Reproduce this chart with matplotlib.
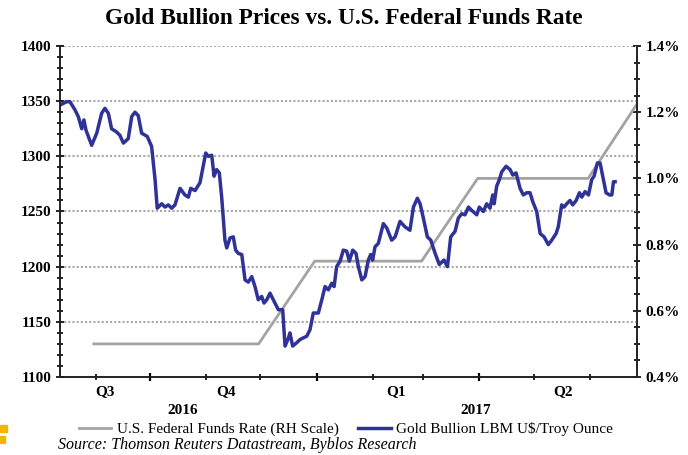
import numpy as np
import pandas as pd
import matplotlib
matplotlib.use("Agg")
import matplotlib.pyplot as plt
import matplotlib.dates as mdates
from matplotlib.ticker import MultipleLocator, FuncFormatter
from matplotlib.patches import Rectangle

# ---------------- data ----------------
base_date = "2016-10-01"
# gold price trace: days relative to base_date, price in US$/oz
gold_days = [-49.7, -46.0, -44.2, -41.4, -39.6, -37.7, -36.5, -35.4, -32.2, -29.4,
             -26.7, -24.9, -23.0, -21.2, -18.4, -16.6, -14.7, -12.0, -10.1, -8.3,
             -6.5, -4.6, -1.5, 0.9, 2.8, 4.0, 6.5, 8.3, 10.1, 12.0,
             13.8, 16.6, 19.3, 21.2, 22.5, 24.9, 27.6, 29.4, 30.8, 32.2,
             34.1, 35.4, 36.8, 38.3, 39.6, 41.4, 42.4, 44.2, 46.0, 47.3,
             48.8, 50.7, 52.5, 54.3, 56.2, 58.0, 59.8, 61.7, 63.0, 64.5,
             66.3, 68.1, 70.9, 73.3, 74.6, 76.4, 77.3, 78.8, 81.0, 82.9,
             86.6, 88.4, 90.2, 93.0, 94.9, 96.7, 98.5, 100.4, 101.7, 103.1,
             105.0, 106.8, 108.7, 110.1, 112.0, 113.8, 115.1, 117.0, 118.8, 120.6,
             121.9, 123.0, 124.3, 126.1, 128.9, 130.8, 133.5, 135.4, 138.1, 140.9,
             143.6, 145.5, 147.7, 149.2, 151.0, 153.2, 155.1, 157.5, 159.8, 162.4,
             164.3, 166.1, 168.5, 170.3, 172.2, 174.0, 175.9, 177.7, 180.5, 181.9,
             184.1, 186.0, 187.8, 189.3, 190.1, 191.5, 193.0, 194.3, 196.7, 198.9,
             200.4, 202.2, 204.4, 206.2, 208.1, 209.9, 211.4, 213.6, 215.5, 217.7,
             220.0, 221.9, 224.3, 225.5, 227.4, 228.7, 230.2, 232.0, 233.5, 235.4,
             237.2, 238.5, 240.3, 242.2, 244.0, 245.3, 247.1, 248.6, 250.4, 251.9,
             253.8, 255.1, 256.0, 256.9]
gold_price = [1346.5, 1349.5, 1349.5, 1342, 1336, 1325, 1333, 1324, 1310, 1321,
              1339, 1343.5, 1339, 1325, 1322, 1319, 1312, 1316, 1336, 1340,
              1337, 1321, 1318, 1309, 1279, 1253, 1257, 1254, 1256, 1253,
              1256, 1271, 1265, 1263, 1271, 1269, 1276, 1291, 1303, 1300,
              1301, 1282, 1288, 1285, 1263, 1224, 1217, 1226, 1227, 1215,
              1212, 1211, 1188, 1186, 1191, 1182, 1170, 1173, 1167, 1170,
              1176, 1170, 1161, 1161, 1128, 1135, 1140, 1128, 1131, 1134,
              1137, 1143, 1158, 1158, 1170, 1182, 1179, 1185, 1182, 1200,
              1205, 1215, 1214, 1205, 1215, 1212, 1200, 1188, 1191, 1206,
              1211, 1206, 1218, 1221, 1239, 1235, 1224, 1227, 1241, 1236,
              1233, 1254, 1262, 1257, 1244, 1227, 1224, 1212, 1202, 1206,
              1200, 1227, 1232, 1244, 1248, 1247, 1254, 1251, 1247, 1254,
              1250, 1257, 1253, 1265, 1257, 1273, 1279, 1286, 1291, 1288,
              1283, 1285, 1271, 1265, 1267, 1267, 1259, 1250, 1230, 1227,
              1220, 1224, 1230, 1236, 1256, 1254, 1257, 1260, 1256, 1260,
              1267, 1263, 1268, 1265, 1279, 1282, 1294, 1294, 1279, 1267,
              1265, 1265, 1277, 1277]

rate_dates = ["2016-08-31", "2016-09-30", "2016-10-31", "2016-11-30", "2016-12-31",
              "2017-01-31", "2017-02-28", "2017-03-31", "2017-04-30", "2017-05-31",
              "2017-06-30"]
rate_values = [0.50, 0.50, 0.50, 0.50, 0.75, 0.75, 0.75, 1.00, 1.00, 1.00, 1.25]

quarter_labels = ["Q3", "Q4", "Q1", "Q2"]
quarter_centers = ["2016-09-06", "2016-11-12", "2017-02-14", "2017-05-17"]
year_labels = ["2016", "2017"]
year_centers = ["2016-10-19", "2017-03-30"]

title = "Gold Bullion Prices vs. U.S. Federal Funds Rate"
source = "Source: Thomson Reuters Datastream, Byblos Research"

# ---------------- figure ----------------
plt.rcParams["font.family"] = ["Liberation Serif", "DejaVu Serif"]

fig = plt.figure(figsize=(6.88, 4.55), dpi=100)
ax = fig.add_axes([60/688, 1-377/455, (637-60)/688, (377-46)/455])
ax2 = ax.twinx()
ax.set_zorder(ax2.get_zorder() + 1)
ax.patch.set_visible(False)

base = pd.Timestamp(base_date)
gdates = base + pd.to_timedelta(np.array(gold_days), unit="D")
rdates = pd.to_datetime(rate_dates)

gold_color = "#2f3296"
rate_color = "#a3a3a3"

l2, = ax2.plot(rdates, rate_values, color=rate_color, lw=2.0,
               label="U.S. Federal Funds Rate (RH Scale)")
l1, = ax.plot(gdates, gold_price, color=gold_color, lw=2.5,
              label="Gold Bullion LBM U$/Troy Ounce")

xmin = base + pd.Timedelta(days=-49.7)
xmax = base + pd.Timedelta(days=269)
ax.set_xlim(xmin, xmax)
ax.set_ylim(1100, 1400)
ax2.set_ylim(0.4, 1.4)

# grid
for v in [1150, 1200, 1250, 1300, 1350, 1400]:
    ax.axhline(v, color="#a8a8a8", lw=1.5, ls=(0, (1.0, 1.0)), zorder=0)

for a in (ax, ax2):
    a.spines["top"].set_visible(False)
    for s in ("left", "right", "bottom"):
        a.spines[s].set_linewidth(1.2)
        a.spines[s].set_color("#222222")

# y ticks
ax.yaxis.set_major_locator(MultipleLocator(50))
ax.yaxis.set_minor_locator(MultipleLocator(10))
ax2.yaxis.set_major_locator(MultipleLocator(0.2))
ax2.yaxis.set_minor_locator(MultipleLocator(0.05))
ax2.yaxis.set_major_formatter(FuncFormatter(lambda v, p: f"{v:.1f}%"))
ax.tick_params(axis="y", which="major", direction="inout", length=6, width=1.2,
               labelsize=11, pad=3)
ax.tick_params(axis="y", which="minor", direction="inout", length=4, width=1.2)
ax2.tick_params(axis="y", which="major", direction="inout", length=6, width=1.2,
                labelsize=11, pad=3)
ax2.tick_params(axis="y", which="minor", direction="inout", length=4, width=1.2)
for lab in ax.get_yticklabels() + ax2.get_yticklabels():
    lab.set_fontweight("bold")

# x ticks: months minor, quarters major
ax.xaxis.set_major_locator(mdates.MonthLocator(bymonth=[1, 4, 7, 10]))
ax.xaxis.set_minor_locator(mdates.MonthLocator())
ax.xaxis.set_major_formatter(plt.NullFormatter())
ax.tick_params(axis="x", which="major", direction="inout", length=6, width=1.6)
ax.tick_params(axis="x", which="minor", direction="inout", length=4, width=1.2)
ax2.tick_params(axis="x", which="both", length=0)

trans = matplotlib.transforms.blended_transform_factory(ax.transData, fig.transFigure)
for lab, c in zip(quarter_labels, quarter_centers):
    ax.text(pd.Timestamp(c), 1-392/455, lab, transform=trans, ha="center", va="center",
            fontsize=11, fontweight="bold")
for lab, c in zip(year_labels, year_centers):
    ax.text(pd.Timestamp(c), 1-410/455, lab, transform=trans, ha="center", va="center",
            fontsize=11, fontweight="bold")

fig.text(0.5, 1-18/455, title, ha="center", va="center", fontsize=16.8, fontweight="bold")

fig.legend(handles=[l2, l1], loc="center", bbox_to_anchor=(346/688, 1-429/455), ncol=2,
           frameon=False, fontsize=11, handlelength=2.1, handletextpad=0.35,
           columnspacing=1.3)

fig.text(58/688, 2/455, source, ha="left", va="bottom", fontsize=11.5, style="italic")

# small yellow marks at left edge
fig.patches.append(Rectangle((0, 1-432/455), 7/688, 7/455, transform=fig.transFigure,
                             color="#f2b600", zorder=5))
fig.patches.append(Rectangle((0, 1-443/455), 5/688, 7/455, transform=fig.transFigure,
                             color="#f2b600", zorder=5))

fig.savefig("out.png", dpi=100)
